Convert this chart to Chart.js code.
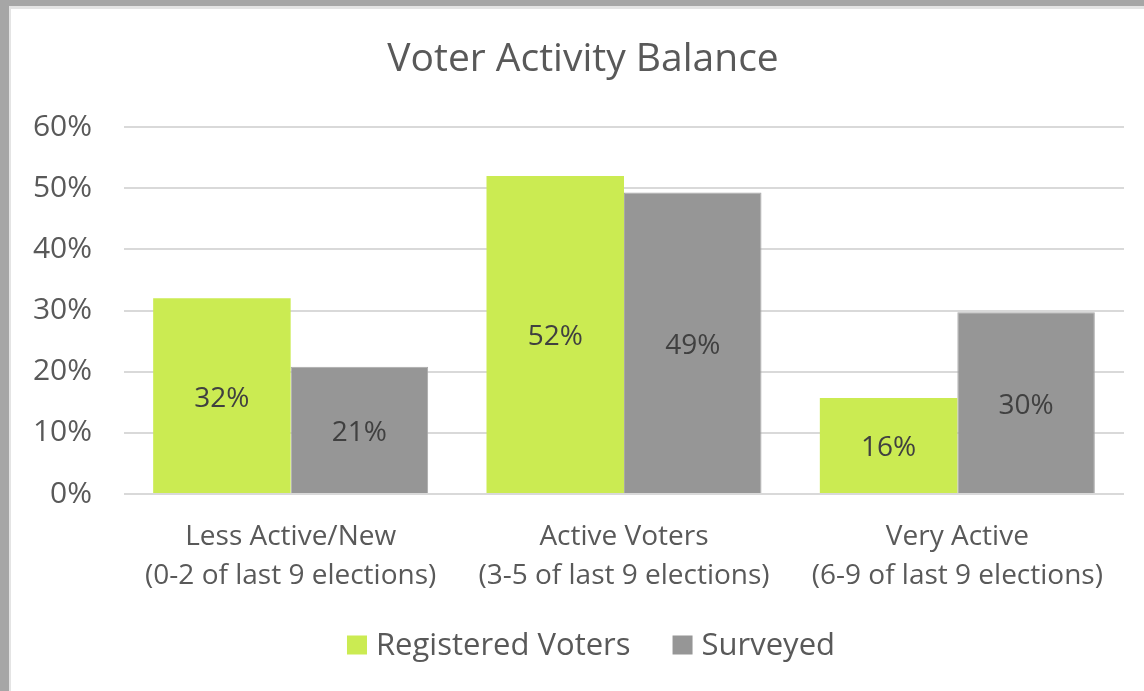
<!DOCTYPE html>
<html>
<head>
<meta charset="utf-8">
<script src="https://cdn.jsdelivr.net/npm/chart.js@4/dist/chart.umd.min.js"></script>
<style>
  html, body { margin: 0; padding: 0; background: #fff; }
  #frame {
    position: absolute; left: 0; top: 0; width: 1144px; height: 691px;
    box-sizing: border-box;
    border-left: 9px solid #a6a6a6; border-top: 6px solid #a6a6a6;
  }
  #inner {
    position: absolute; left: 0; top: 0; right: 0; bottom: 0;
    border-left: 2px solid #e4e4e4; border-top: 3px solid #e4e4e4;
  }
  #wrap { position: absolute; left: 11px; top: 9px; width: 1133px; height: 682px; }
</style>
</head>
<body>
<div id="frame"><div id="inner"></div></div>
<div id="wrap"><canvas id="c" width="1133" height="682"></canvas></div>
<script>
const chartTitle = 'Voter Activity Balance';
const categories = [
  ["Less Active/New", "(0-2 of last 9 elections)"],
  ["Active Voters", "(3-5 of last 9 elections)"],
  ["Very Active", "(6-9 of last 9 elections)"]
];
const registeredVoters = [32.0, 52.0, 15.7];
const surveyed = [20.8, 49.3, 29.7];
const yTicks = [0, 10, 20, 30, 40, 50, 60];

const FONT = "'Open Sans', 'Noto Sans', sans-serif";

const valueLabels = {
  id: 'valueLabels',
  afterDatasetsDraw(chart) {
    const ctx = chart.ctx;
    ctx.save();
    ctx.font = "28px " + FONT;
    ctx.fillStyle = '#404040';
    ctx.textAlign = 'center';
    ctx.textBaseline = 'middle';
    chart.data.datasets.forEach((ds, di) => {
      chart.getDatasetMeta(di).data.forEach((bar, i) => {
        const y = (bar.y + bar.base) / 2;
        ctx.fillText(Math.round(ds.data[i]) + '%', bar.x, y + 3);
      });
    });
    ctx.restore();
  }
};

// Title and bottom legend drawn Excel-style
const decorations = {
  id: 'decorations',
  afterDraw(chart) {
    const ctx = chart.ctx;
    ctx.save();
    // title
    ctx.font = "39px " + FONT;
    ctx.fillStyle = '#595959';
    ctx.textAlign = 'center';
    ctx.textBaseline = 'middle';
    ctx.fillText(chartTitle, 572, 51);
    // legend
    const boxW = 20, boxH = 19, gap = 9, itemGap = 42;
    const cy = 636, cx = 580;
    ctx.font = "31px " + FONT;
    const items = chart.data.datasets.map(ds => ({ text: ds.label, color: ds.backgroundColor, w: ctx.measureText(ds.label).width }));
    let total = 0;
    items.forEach((it, i) => { total += boxW + gap + it.w + (i ? itemGap : 0); });
    let x = cx - total / 2;
    ctx.textAlign = 'left';
    items.forEach(it => {
      ctx.fillStyle = it.color;
      ctx.fillRect(x, cy - boxH / 2, boxW, boxH);
      x += boxW + gap;
      ctx.fillStyle = '#595959';
      ctx.fillText(it.text, x, cy + 1);
      x += it.w + itemGap;
    });
    ctx.restore();
  }
};

new Chart(document.getElementById('c'), {
  type: 'bar',
  data: {
    labels: categories,
    datasets: [
      { label: 'Registered Voters', data: registeredVoters, backgroundColor: '#cbeb52', borderWidth: 0 },
      { label: 'Surveyed', data: surveyed, backgroundColor: '#969696', borderColor: '#a8a8a8', borderWidth: 1 }
    ]
  },
  options: {
    responsive: false,
    animation: false,
    layout: { padding: { left: 0, right: 20, top: 118, bottom: 96 } },
    datasets: { bar: { categoryPercentage: 0.825, barPercentage: 1.0 } },
    plugins: {
      title: { display: false },
      legend: { display: false },
      tooltip: { enabled: false }
    },
    scales: {
      x: {
        afterFit(scale) { scale.height = 101; },
        grid: { display: false, drawTicks: false },
        border: { display: false },
        ticks: { color: '#595959', font: { family: FONT, size: 28, lineHeight: 1.39 }, padding: 24, maxRotation: 0 }
      },
      y: {
        min: 0, max: 60,
        afterBuildTicks(scale) { scale.ticks = yTicks.map(v => ({ value: v })); },
        afterFit(scale) { scale.width = 113; },
        grid: { color: '#d9d9d9', lineWidth: 2, drawTicks: false },
        border: { display: false },
        ticks: {
          color: '#595959', font: { family: FONT, size: 30 }, padding: 32,
          callback: v => v + '%'
        }
      }
    }
  },
  plugins: [valueLabels, decorations]
});
</script>
</body>
</html>
